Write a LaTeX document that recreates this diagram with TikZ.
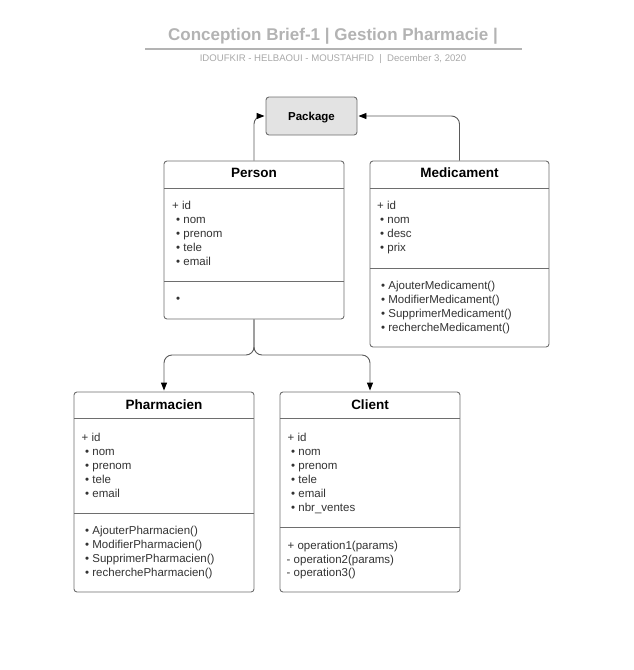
\documentclass[tikz,border=0pt]{standalone}
\usepackage{fontspec}
\setmainfont{Liberation Sans}
\usetikzlibrary{arrows.meta}
\definecolor{boxline}{HTML}{6E6E6E}
\definecolor{connc}{HTML}{5A5A5A}
\definecolor{txt}{HTML}{333333}
\definecolor{titlegray}{HTML}{B3B3B3}
\definecolor{subgray}{HTML}{A8A8A8}
\definecolor{pkgfill}{HTML}{E3E3E3}
\tikzset{
 classbox/.style={draw=boxline, line width=0.9pt, rounded corners=3pt, fill=white, inner sep=0pt},
 divider/.style={draw=boxline, line width=0.9pt},
 classtitle/.style={font=\fontsize{13.5}{16}\selectfont\bfseries, text=black, inner sep=0pt, anchor=base},
 member/.style={font=\fontsize{11.5}{14}\selectfont, text=txt, anchor=base west, inner sep=0pt},
 connarrow/.style={draw=connc, line width=0.9pt, rounded corners=8pt, shorten >=1pt, -{Triangle[length=8pt,width=6pt,black]}},
}
\begin{document}
\begin{tikzpicture}[x=1pt,y=-1pt]
\useasboundingbox (0,0) rectangle (633,670);
% title block
\node[font=\fontsize{17}{20}\selectfont\bfseries, text=titlegray, inner sep=0pt] (title) at (333,36) {Conception Brief-1 | Gestion Pharmacie |};
\draw[titlegray, line width=1.2pt] (145,49) -- (522,49);
\node[font=\fontsize{9.6}{11}\selectfont, text=subgray, inner sep=0pt] (subtitle) at (333,59.5) {IDOUFKIR - HELBAOUI - MOUSTAHFID~~|~~December 3, 2020};

% boxes
\node[classbox, fill=pkgfill, minimum width=91pt, minimum height=38pt] (package) at (311.5,116) {};
\node[font=\fontsize{11.5}{14}\selectfont\bfseries, inner sep=0pt, anchor=base] (pkgtext) at (311.5,120) {Package};

\node[classbox, minimum width=180pt, minimum height=158pt] (person) at (254,240) {};
\node[classbox, minimum width=179pt, minimum height=186pt] (medicament) at (459.5,254) {};
\node[classbox, minimum width=180pt, minimum height=200pt] (pharmacien) at (164,492) {};
\node[classbox, minimum width=180pt, minimum height=200pt] (client) at (370,492) {};

% dividers
\draw[divider] (164,188) -- (344,188);
\draw[divider] (164,281) -- (344,281);
\draw[divider] (370,188) -- (549,188);
\draw[divider] (370,268) -- (549,268);
\draw[divider] (74,418.5) -- (254,418.5);
\draw[divider] (74,513) -- (254,513);
\draw[divider] (280,418.5) -- (460,418.5);
\draw[divider] (280,527) -- (460,527);

% titles
\node[classtitle] (persontitle) at (254,177.5) {Person};
\node[classtitle] (medtitle) at (459.5,177.5) {Medicament};
\node[classtitle] (phartitle) at (164,409) {Pharmacien};
\node[classtitle] (clienttitle) at (370,409) {Client};

% Person members
\foreach \xx/\yy/\t [count=\i] in {172/205/{+ id}, 176/219/{• nom}, 176/233/{• prenom}, 176/247/{• tele}, 176/261/{• email}}
  \node[member] (pa\i) at (\xx,\yy+4) {\t};
\node[member] (pm1) at (176,302) {•};

% Medicament members
\foreach \xx/\yy/\t [count=\i] in {377/205/{+ id}, 380/219/{• nom}, 380/233/{• desc}, 380/247/{• prix}}
  \node[member] (ma\i) at (\xx,\yy+4) {\t};
\foreach \yy/\t [count=\i] in {285/{• AjouterMedicament()}, 299/{• ModifierMedicament()}, 313/{• SupprimerMedicament()}, 327/{• rechercheMedicament()}}
  \node[member] (mm\i) at (381,\yy+4) {\t};

% Pharmacien members
\foreach \xx/\yy/\t [count=\i] in {81.5/437/{+ id}, 85/451/{• nom}, 85/465/{• prenom}, 85/479/{• tele}, 85/493/{• email}}
  \node[member] (fa\i) at (\xx,\yy+4) {\t};
\foreach \yy/\t [count=\i] in {530.5/{• AjouterPharmacien()}, 544.5/{• ModifierPharmacien()}, 558.5/{• SupprimerPharmacien()}, 572.5/{• recherchePharmacien()}}
  \node[member] (fm\i) at (85,\yy+4) {\t};

% Client members
\foreach \xx/\yy/\t [count=\i] in {287.5/437/{+ id}, 291/451/{• nom}, 291/465/{• prenom}, 291/479/{• tele}, 291/493/{• email}, 291/507/{• nbr\_ventes}}
  \node[member] (ca\i) at (\xx,\yy+4) {\t};
\foreach \xx/\yy/\t [count=\i] in {287.5/545.5/{+ operation1(params)}, 286.5/559/{- operation2(params)}, 286.5/572.5/{- operation3()}}
  \node[member] (cm\i) at (\xx,\yy+4) {\t};

% connectors
\draw[connarrow] (person.north) -- (person.north |- package.west) -- (package.west);
\draw[connarrow] (medicament.north) -- (medicament.north |- package.east) -- (package.east);
\coordinate (split) at (254,355);
\draw[connarrow] (person.south) -- (split) -| (pharmacien.north);
\draw[connarrow] (person.south) -- (split) -| (client.north);
\end{tikzpicture}
\end{document}
